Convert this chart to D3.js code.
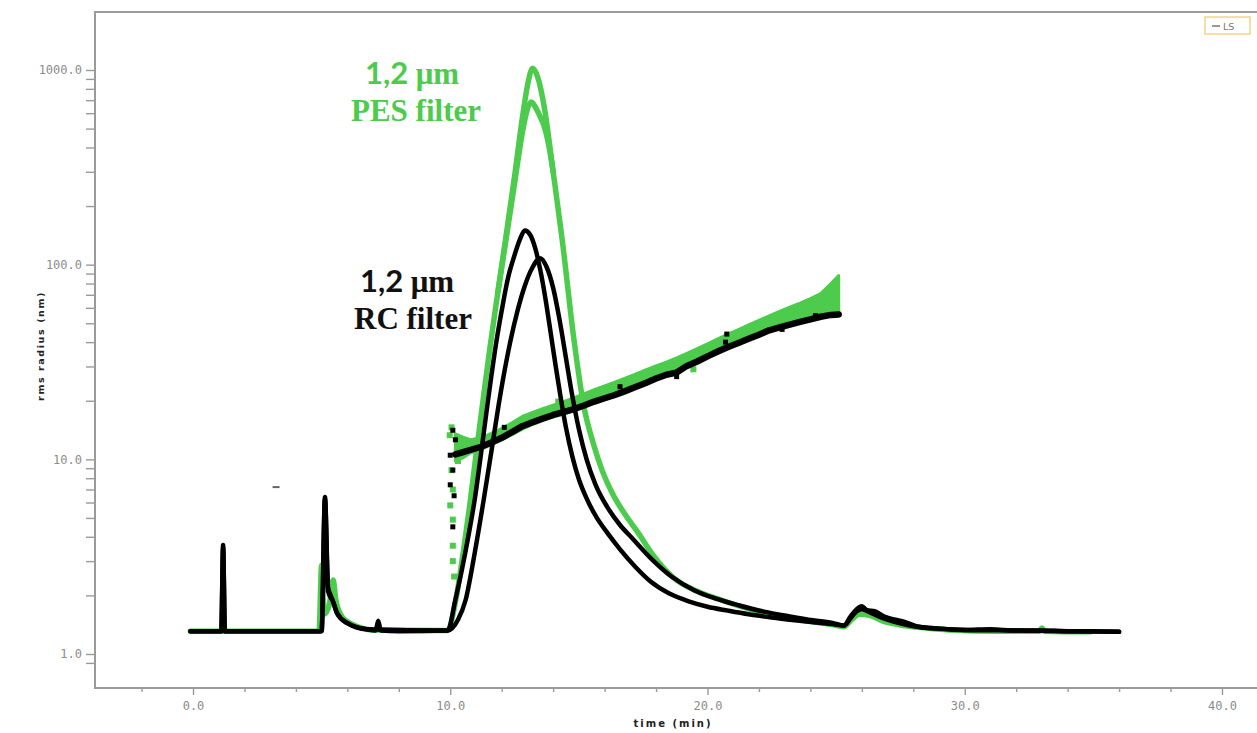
<!DOCTYPE html>
<html>
<head>
<meta charset="utf-8">
<script src="https://cdn.jsdelivr.net/npm/d3@7"></script>
<style>
  html, body { margin: 0; padding: 0; background: #fff; }
  svg { display: block; }
</style>
</head>
<body>
<svg id="chart" width="1257" height="733"></svg>
<script>
// ---- Data -------------------------------------------------------------
// LS-type elution traces, PES filter (green) — two injections
const pesTraceATime = [-0.1, 4.9, 5.0, 5.1, 5.3, 5.45, 5.55, 5.8, 6.2, 7.0, 9.9, 10.2, 10.5, 10.75, 11.0, 11.25, 11.55, 11.85, 12.15, 12.5, 12.83, 13.0, 13.2, 13.4, 13.65, 14.0, 14.35, 14.8, 15.2, 15.55, 15.9, 16.3, 16.8, 17.3, 17.9, 18.7, 19.6, 20.5, 22.0, 23.6, 24.8, 25.3, 25.6, 25.9, 26.3, 26.8, 27.5, 28.5, 29.4, 31.4, 32.9, 33.0, 33.1, 34.9];
const pesTraceAValue = [1.31, 1.31, 2.86, 1.6, 1.8, 2.4, 1.9, 1.55, 1.42, 1.33, 1.32, 1.85, 3.3, 5.7, 10.5, 19, 38, 72, 135, 285, 600, 830, 1020, 920, 650, 300, 135, 42, 18.5, 12.2, 8.8, 6.7, 5.2, 4.2, 3.2, 2.45, 2.1, 1.9, 1.65, 1.5, 1.42, 1.38, 1.5, 1.6, 1.58, 1.48, 1.41, 1.36, 1.33, 1.31, 1.31, 1.36, 1.31, 1.30];

const pesTraceBTime = [11.85, 12.15, 12.5, 12.83, 13.0, 13.15, 13.35, 13.5, 13.65, 13.8, 14.0];
const pesTraceBValue = [72, 130, 262, 500, 630, 684, 630, 575, 515, 430, 300];

// LS-type elution traces, RC filter (black) — two injections
const rcTraceATime = [-0.1, 1.1, 1.17, 1.24, 5.0, 5.13, 5.25, 5.35, 5.45, 5.6, 6.0, 6.75, 7.1, 7.2, 7.3, 8.0, 9.9, 10.2, 10.45, 10.7, 10.95, 11.2, 11.42, 11.6, 11.75, 12.0, 12.25, 12.5, 12.7, 12.9, 13.1, 13.3, 13.5, 13.7, 13.9, 14.1, 14.3, 14.5, 14.75, 15.0, 15.3, 15.7, 16.1, 16.6, 17.2, 17.8, 18.5, 19.3, 20.0, 20.8, 21.6, 22.5, 23.4, 24.2, 24.9, 25.3, 25.55, 25.8, 26.0, 26.2, 26.5, 26.9, 27.3, 27.6, 28.2, 29.0, 30.0, 31.0, 32.0, 33.0, 34.0, 35.0, 36.0];
const rcTraceAValue = [1.31, 1.31, 3.63, 1.31, 1.31, 6.4, 2.2, 2.0, 1.85, 1.62, 1.44, 1.34, 1.32, 1.48, 1.32, 1.31, 1.32, 1.9, 2.7, 4.0, 6.2, 10.8, 18, 27, 37, 58, 86, 112, 134, 150, 143, 122, 94, 67, 45, 30, 20.5, 14.5, 10.3, 7.9, 6.3, 5.0, 4.2, 3.45, 2.8, 2.35, 2.05, 1.86, 1.75, 1.67, 1.60, 1.54, 1.49, 1.45, 1.42, 1.40, 1.55, 1.70, 1.76, 1.68, 1.66, 1.55, 1.50, 1.47, 1.38, 1.35, 1.33, 1.34, 1.32, 1.32, 1.31, 1.31, 1.30];

const rcTraceBTime = [-0.1, 1.1, 1.17, 1.24, 5.0, 5.13, 5.25, 5.45, 5.6, 6.0, 6.75, 9.9, 10.3, 10.6, 10.95, 11.3, 11.6, 11.88, 12.1, 12.33, 12.6, 12.9, 13.2, 13.5, 13.75, 14.0, 14.25, 14.5, 14.75, 15.0, 15.3, 15.65, 16.1, 16.6, 17.1, 17.8, 18.6, 19.5, 20.3, 21.2, 22.2, 23.2, 24.1, 24.9, 25.3, 25.55, 25.8, 26.0, 26.3, 26.7, 27.2, 28.0, 29.0, 30.0, 32.0, 34.0, 36.0];
const rcTraceBValue = [1.31, 1.31, 3.5, 1.31, 1.31, 6.2, 2.1, 1.85, 1.62, 1.44, 1.34, 1.32, 1.5, 1.9, 3.3, 6.2, 11.0, 19, 28, 40, 57, 78, 97, 108, 97, 76, 52, 33, 21, 14.3, 10.0, 7.4, 5.7, 4.6, 3.9, 3.1, 2.5, 2.12, 1.93, 1.78, 1.65, 1.56, 1.49, 1.44, 1.40, 1.52, 1.66, 1.70, 1.64, 1.55, 1.47, 1.39, 1.35, 1.33, 1.32, 1.31, 1.30];

// rms radius across the peak
const rmsTime = [10.2, 10.5, 10.8, 11.2, 11.6, 12.0, 12.4, 12.8, 13.2, 13.6, 14.0, 14.4, 14.8, 15.2, 15.6, 16.0, 16.4, 16.8, 17.2, 17.6, 18.0, 18.4, 18.8, 19.2, 19.6, 20.0, 20.4, 20.8, 21.2, 21.6, 22.0, 22.4, 22.8, 23.2, 23.6, 24.0, 24.4, 24.8, 25.1];
const rmsPesLow = [9.8, 10.2, 10.8, 11.3, 11.9, 12.6, 13.4, 14.3, 15.1, 15.8, 16.5, 17.1, 17.8, 18.6, 19.5, 20.3, 21.1, 22.1, 23.2, 24.4, 25.7, 26.9, 28.1, 29.9, 31.5, 33.4, 35.4, 37.4, 39.3, 41.3, 43.4, 45.6, 47.3, 49.0, 50.6, 52.2, 54.0, 55.5, 56.0];
const rmsPesHigh = [13.5, 13.0, 12.6, 12.9, 13.6, 14.4, 15.4, 16.6, 17.4, 18.2, 19.0, 19.8, 20.7, 21.7, 22.8, 23.8, 24.9, 26.1, 27.4, 28.8, 30.2, 31.6, 33.2, 35.0, 37.0, 39.2, 41.6, 44.0, 46.4, 49.0, 51.8, 54.5, 57.5, 60.5, 63.5, 67.0, 71.0, 80.0, 88.0];
const rmsRc = [10.6, 10.9, 11.2, 11.6, 12.2, 12.9, 13.8, 14.8, 15.5, 16.2, 16.9, 17.5, 18.1, 18.9, 19.8, 20.6, 21.4, 22.4, 23.5, 24.7, 26.0, 27.2, 27.9, 30.2, 31.8, 33.8, 35.8, 37.8, 39.6, 41.6, 43.7, 46.0, 47.6, 49.2, 50.8, 52.4, 54.0, 55.2, 55.5];

// scattered rms points off the main band
const pesOutlierTime = [10.05, 9.98, 10.05, 10.1, 10.0, 10.1, 10.1, 10.1, 10.15, 10.4, 10.3, 19.45, 14.2];
const pesOutlierValue = [14.6, 13.3, 8.8, 7.0, 5.8, 4.9, 3.6, 3.0, 2.5, 11.8, 9.8, 29.0, 19.8];
const rcOutlierTime = [10.1, 10.2, 10.0, 10.1, 10.0, 10.15, 10.1, 20.7, 20.75, 18.8, 16.6, 12.1, 22.9, 24.2];
const rcOutlierValue = [14.1, 12.6, 10.5, 8.8, 7.4, 6.5, 4.5, 40, 44, 26.6, 23.6, 14.6, 46.5, 54.8];
const strayTime = [3.23];
const strayValue = [7.2];

// axis ticks
const xTicks = [-2, 0, 2, 4, 6, 8, 10, 12, 14, 16, 18, 20, 22, 24, 26, 28, 30, 32, 34, 36, 38, 40];
const xMajor = [0, 10, 20, 30, 40];
const yMajor = [1, 10, 100, 1000];
const yMinorMult = [2, 3, 4, 5, 6, 7, 8, 9];

// ---- Layout -------------------------------------------------------------
const svg = d3.select("#chart");
const green = "#4ccb4c";
const axisGray = "#9a9a9a";
const labelGray = "#8c8c8c";

const x = d3.scaleLinear().domain([0, 40]).range([193, 1222]);
const y = d3.scaleLog().domain([1, 1000]).range([654, 70]);

const frameLeft = 95, frameTop = 12, frameBottom = 688, frameRight = 1262;

// frame
svg.append("path")
  .attr("d", `M${frameRight},${frameTop}H${frameLeft}V${frameBottom}H${frameRight}`)
  .attr("fill", "none").attr("stroke", axisGray).attr("stroke-width", 2);

// y axis ticks
const yTickVals = [0.9];
yMajor.forEach(d => { yTickVals.push(d); if (d < 1000) yMinorMult.forEach(m => yTickVals.push(d * m)); });
const yAxis = d3.axisLeft(y)
  .tickValues(yTickVals)
  .tickSize(9)
  .tickPadding(4)
  .tickFormat(d => yMajor.includes(d) ? d3.format(".1f")(d) : "");
const gy = svg.append("g").attr("transform", `translate(${frameLeft},0)`).call(yAxis);
gy.select(".domain").remove();
gy.selectAll(".tick line").attr("stroke", axisGray).attr("stroke-width", 1.4);
gy.selectAll(".tick text")
  .attr("fill", labelGray)
  .style("font-family", "'DejaVu Sans Mono', monospace")
  .style("font-size", "12px");

// x axis ticks
const xAxis = d3.axisBottom(x)
  .tickValues(xTicks)
  .tickSize(4)
  .tickPadding(9)
  .tickFormat(d => xMajor.includes(d) ? d3.format(".1f")(d) : "");
const gx = svg.append("g").attr("transform", `translate(0,${frameBottom})`).call(xAxis);
gx.select(".domain").remove();
gx.selectAll(".tick line")
  .attr("stroke", axisGray).attr("stroke-width", 1.4)
  .attr("y2", d => xMajor.includes(d) ? 7 : 4);
gx.selectAll(".tick text")
  .attr("fill", labelGray)
  .style("font-family", "'DejaVu Sans Mono', monospace")
  .style("font-size", "12px");

// axis titles
svg.append("text")
  .attr("x", 673).attr("y", 727)
  .attr("text-anchor", "middle")
  .style("font-family", "'DejaVu Sans', sans-serif")
  .style("font-size", "10px").style("font-weight", "bold")
  .style("letter-spacing", "2px")
  .attr("fill", "#222")
  .text("time (min)");
svg.append("text")
  .attr("transform", "translate(44,346) rotate(-90)")
  .attr("text-anchor", "middle")
  .style("font-family", "'DejaVu Sans', sans-serif")
  .style("font-size", "9.5px").style("font-weight", "bold")
  .style("letter-spacing", "1.6px")
  .attr("fill", "#222")
  .text("rms radius (nm)");

// ---- Marks -------------------------------------------------------------
const zip = (ts, vs) => ts.map((t, i) => [t, vs[i]]);
const line = d3.line().x(d => x(d[0])).y(d => y(d[1])).curve(d3.curveMonotoneX);
const roughLine = d3.line().x(d => x(d[0])).y(d => y(d[1])).curve(d3.curveLinear);

const plot = svg.append("g");

function trace(ts, vs, color, w) {
  plot.append("path")
    .datum(zip(ts, vs))
    .attr("d", line)
    .attr("fill", "none")
    .attr("stroke", color)
    .attr("stroke-width", w)
    .attr("stroke-linejoin", "round")
    .attr("stroke-linecap", "round");
}

// PES traces
trace(pesTraceATime, pesTraceAValue, green, 5.5);
trace(pesTraceBTime, pesTraceBValue, green, 5.5);

// PES rms band
const band = rmsTime.map((t, i) => ({ t, lo: rmsPesLow[i], hi: rmsPesHigh[i] }));
plot.append("path")
  .datum(band)
  .attr("d", d3.area().x(d => x(d.t)).y0(d => y(d.lo)).y1(d => y(d.hi)).curve(d3.curveLinear))
  .attr("fill", green).attr("stroke", green).attr("stroke-width", 3)
  .attr("stroke-linejoin", "round");
plot.selectAll("rect.pesOut")
  .data(zip(pesOutlierTime, pesOutlierValue))
  .join("rect").attr("class", "pesOut")
  .attr("x", d => x(d[0]) - 3).attr("y", d => y(d[1]) - 3)
  .attr("width", 6).attr("height", 6).attr("fill", green);

// RC traces
trace(rcTraceATime, rcTraceAValue, "#000", 4.5);
trace(rcTraceBTime, rcTraceBValue, "#000", 4.5);

// RC rms band
plot.append("path")
  .datum(zip(rmsTime, rmsRc))
  .attr("d", roughLine)
  .attr("fill", "none").attr("stroke", "#000").attr("stroke-width", 6.5)
  .attr("stroke-linejoin", "round").attr("stroke-linecap", "round");
plot.selectAll("rect.rcOut")
  .data(zip(rcOutlierTime, rcOutlierValue))
  .join("rect").attr("class", "rcOut")
  .attr("x", d => x(d[0]) - 2.5).attr("y", d => y(d[1]) - 2.5)
  .attr("width", 5).attr("height", 5).attr("fill", "#000");

// stray point
plot.selectAll("rect.stray")
  .data(zip(strayTime, strayValue))
  .join("rect").attr("class", "stray")
  .attr("x", d => x(d[0]) - 3.5).attr("y", d => y(d[1]) - 1)
  .attr("width", 7).attr("height", 2).attr("fill", "#666");

// ---- Annotations -------------------------------------------------------
function label(xPos, yPos, color, numPart, rest) {
  const t = svg.append("text").attr("x", xPos).attr("y", yPos).attr("fill", color)
    .style("font-weight", "bold").style("font-size", "31px");
  if (numPart) {
    t.append("tspan").style("font-family", "Lato, 'Open Sans', sans-serif").text(numPart + " ");
  }
  t.append("tspan").style("font-family", "'Liberation Serif', serif").text(rest);
}
label(365, 84, green, "1,2", "μm");
label(351, 121, green, null, "PES filter");
label(360, 292, "#111", "1,2", "μm");
label(354, 329, "#111", null, "RC filter");

// legend
const lg = svg.append("g").attr("transform", "translate(1205,17)");
lg.append("rect").attr("width", 45).attr("height", 17)
  .attr("fill", "#fff").attr("stroke", "#f3d58a").attr("stroke-width", 1.5);
lg.append("line").attr("x1", 7).attr("x2", 15).attr("y1", 9).attr("y2", 9)
  .attr("stroke", "#777").attr("stroke-width", 1.5);
lg.append("text").attr("x", 18).attr("y", 12.5)
  .style("font-family", "'DejaVu Sans', sans-serif").style("font-size", "9.5px")
  .attr("fill", "#777").text("LS");
</script>
</body>
</html>
